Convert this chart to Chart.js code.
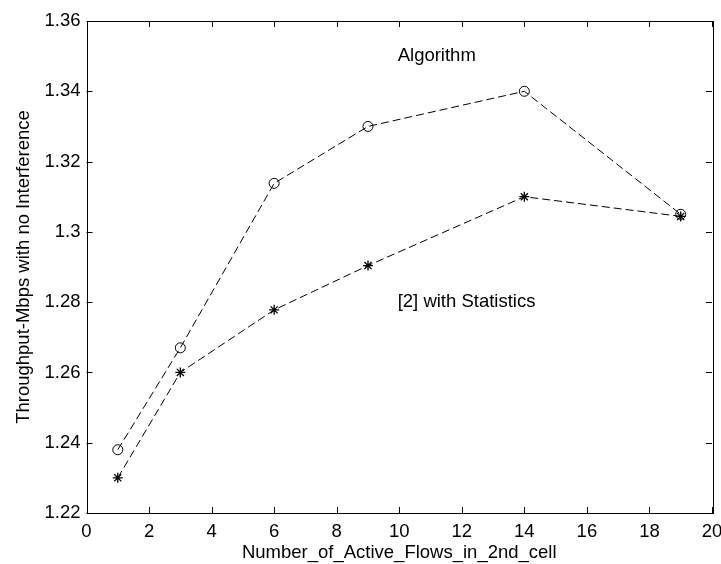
<!DOCTYPE html>
<html>
<head>
<meta charset="utf-8">
<script src="https://cdn.jsdelivr.net/npm/chart.js@4.4.0/dist/chart.umd.min.js"></script>
<style>
  html, body { margin: 0; padding: 0; background: #ffffff; }
  #wrap { width: 721px; height: 564px; }
</style>
</head>
<body>
<div id="wrap"><canvas id="chart" width="721" height="564"></canvas></div>
<script>
// values
const flows = [1, 3, 6, 9, 14, 19];
const algorithmValues = [1.238, 1.267, 1.3138, 1.330, 1.340, 1.305];
const statisticsValues = [1.230, 1.260, 1.2778, 1.2904, 1.310, 1.3044];

const xTicks = [0, 2, 4, 6, 8, 10, 12, 14, 16, 18, 20];
const yTicks = [1.22, 1.24, 1.26, 1.28, 1.30, 1.32, 1.34, 1.36];

// text labels placed inside the axes (data coordinates)
const noteTexts = ['Algorithm', '[2] with Statistics'];
const noteX = [9.95, 9.95];
const noteY = [1.3500, 1.2800];

const FONT = '"Liberation Sans", Arial, sans-serif';
const FONT_SIZE = 18.5;

// black box round the axes, with ticks pointing inwards on all four sides
const matlabFrame = {
    id: 'matlabFrame',
    afterDatasetsDraw(chart) {
        const { ctx, chartArea: a, scales } = chart;
        const tick = 6;
        ctx.save();
        ctx.strokeStyle = '#000';
        ctx.lineWidth = 1;
        ctx.strokeRect(Math.round(a.left) + 0.5, Math.round(a.top) + 0.5,
            Math.round(a.right - a.left), Math.round(a.bottom - a.top));
        ctx.beginPath();
        xTicks.forEach(v => {
            const x = Math.round(scales.x.getPixelForValue(v)) + 0.5;
            ctx.moveTo(x, a.bottom); ctx.lineTo(x, a.bottom - tick);
            ctx.moveTo(x, a.top); ctx.lineTo(x, a.top + tick);
        });
        yTicks.forEach(v => {
            const y = Math.round(scales.y.getPixelForValue(v)) + 0.5;
            ctx.moveTo(a.left, y); ctx.lineTo(a.left + tick, y);
            ctx.moveTo(a.right, y); ctx.lineTo(a.right - tick, y);
        });
        ctx.stroke();

        ctx.fillStyle = '#000';
        ctx.font = FONT_SIZE + 'px ' + FONT;
        ctx.textBaseline = 'middle';
        ctx.textAlign = 'left';
        noteTexts.forEach((t, i) => {
            ctx.fillText(t, scales.x.getPixelForValue(noteX[i]), scales.y.getPixelForValue(noteY[i]));
        });
        ctx.restore();
    }
};

new Chart(document.getElementById('chart').getContext('2d'), {
    type: 'line',
    data: {
        datasets: [
            {
                label: 'Algorithm',
                data: flows.map((x, i) => ({ x: x, y: algorithmValues[i] })),
                borderColor: '#000',
                borderWidth: 1,
                borderDash: [8, 4],
                pointStyle: 'circle',
                pointRadius: 5,
                pointBorderColor: '#000',
                pointBackgroundColor: 'rgba(0,0,0,0)',
                pointBorderWidth: 1,
                fill: false,
                tension: 0
            },
            {
                label: '[2] with Statistics',
                data: flows.map((x, i) => ({ x: x, y: statisticsValues[i] })),
                borderColor: '#000',
                borderWidth: 1,
                borderDash: [8, 4],
                pointStyle: 'star',
                pointRadius: 5,
                pointBorderColor: '#000',
                pointBackgroundColor: '#000',
                pointBorderWidth: 1.3,
                fill: false,
                tension: 0
            }
        ]
    },
    options: {
        responsive: false,
        animation: false,
        layout: { padding: { top: 21, right: 9, left: 0, bottom: 0 } },
        plugins: {
            legend: { display: false },
            tooltip: { enabled: false }
        },
        scales: {
            x: {
                type: 'linear',
                min: 0,
                max: 20,
                afterBuildTicks: s => { s.ticks = xTicks.map(v => ({ value: v })); },
                afterFit: s => { s.height = 51; s.paddingRight = 0; s.paddingLeft = 0; },
                grid: { display: false, drawTicks: false },
                border: { display: false },
                ticks: {
                    color: '#000',
                    font: { family: FONT, size: FONT_SIZE },
                    padding: 8,
                    maxRotation: 0,
                    callback: v => String(v)
                },
                title: {
                    display: true,
                    text: 'Number_of_Active_Flows_in_2nd_cell',
                    color: '#000',
                    font: { family: FONT, size: FONT_SIZE },
                    padding: { top: 0, bottom: 0 }
                }
            },
            y: {
                type: 'linear',
                min: 1.22,
                max: 1.36,
                afterBuildTicks: s => { s.ticks = yTicks.map(v => ({ value: v })); },
                afterFit: s => { s.width = 86.5; s.paddingTop = 0; s.paddingBottom = 0; },
                grid: { display: false, drawTicks: false },
                border: { display: false },
                ticks: {
                    color: '#000',
                    font: { family: FONT, size: FONT_SIZE },
                    padding: 6,
                    callback: v => String(Number(v.toFixed(2)))
                },
                title: {
                    display: true,
                    text: 'Throughput-Mbps with no Interference',
                    color: '#000',
                    font: { family: FONT, size: FONT_SIZE },
                    padding: { top: 13, bottom: 0 }
                }
            }
        }
    },
    plugins: [matlabFrame]
});
</script>
</body>
</html>
